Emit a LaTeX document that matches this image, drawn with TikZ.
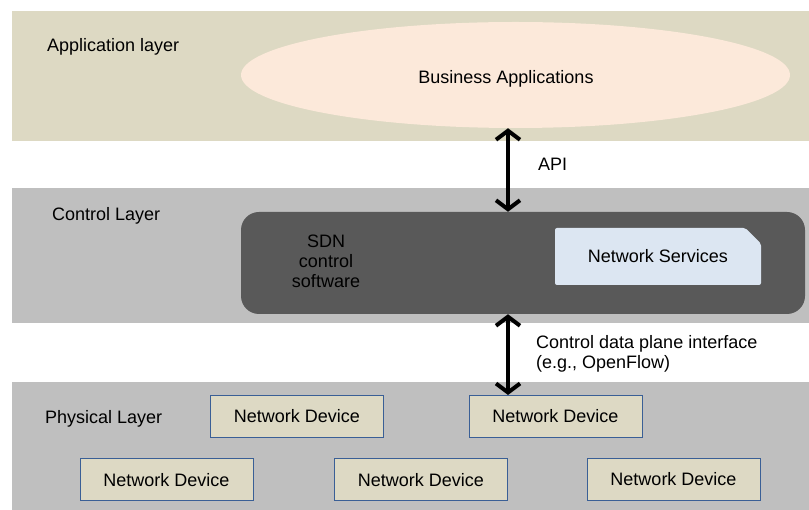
\documentclass[tikz,border=0pt]{standalone}
\usepackage{fontspec}
\setmainfont{Liberation Sans}
\usetikzlibrary{arrows.meta,shapes.geometric,shapes.misc}
\definecolor{appband}{HTML}{DDD9C3}
\definecolor{appfill}{HTML}{FCE9DA}
\definecolor{layergray}{HTML}{BFBFBF}
\definecolor{sdngray}{HTML}{595959}
\definecolor{svcblue}{HTML}{DCE6F2}
\definecolor{devfill}{HTML}{DDD9C4}
\definecolor{devline}{HTML}{3A5F96}
\tikzset{
  txt/.style={font=\fontsize{18}{20}\selectfont, inner sep=0pt},
  lbl/.style={txt, anchor=west, align=left},
  device/.style={txt, draw=devline, line width=1pt, fill=devfill,
    minimum width=173pt, minimum height=42pt},
  bigarrow/.style={line width=4pt,
    {Straight Barb[length=9pt,width=24pt]}-{Straight Barb[length=9pt,width=24pt]}}
}
\begin{document}
\begin{tikzpicture}[x=1pt,y=-1pt]
                \useasboundingbox (0,0) rectangle (809,510);
                \fill[appband] (11.5,11) rectangle (809,141);
                \fill[layergray] (11.5,188) rectangle (809,323);
                \fill[layergray] (11.5,382) rectangle (809,510);

                \node[ellipse, fill=appfill, minimum width=549pt, minimum height=106pt, inner sep=0pt] (apps) at (515.5,75) {};
                \node[txt] (appstext) at (506,79) {Business Applications};
                \node[rounded corners=18pt, fill=sdngray, minimum width=564pt, minimum height=102pt] (sdn) at (523,263) {};
                \node[txt, align=center] (sdntext) at (326,261) {SDN\\control\\software};
                \node[txt, chamfered rectangle, chamfered rectangle corners=north east,
                      chamfered rectangle xsep=9pt, chamfered rectangle ysep=9pt, rounded corners=2pt,
                      fill=svcblue, minimum width=206pt, minimum height=57pt] (services) at (658,256.5) {Network Services};

                \node[lbl] (applayer) at (47,47) {Application layer};
                \node[lbl] (ctrllayer) at (52,216) {Control Layer};
                \node[lbl] (physlayer) at (45,419) {Physical Layer};

                \node[device] (dev1) at (297,416.5) {Network Device};
                \node[device] (dev2) at (555.5,416.5) {Network Device};
                \node[device] (dev3) at (166.5,480) {Network Device};
                \node[device] (dev4) at (421,480) {Network Device};
                \node[device] (dev5) at (673.5,479.5) {Network Device};

                \coordinate (apix) at (508,0);
                \draw[bigarrow] (apps.south -| apix) -- (sdn.north -| apix);
                \draw[bigarrow] (sdn.south -| apix) -- (dev2.north -| apix);
                \node[lbl] (api) at (538,164) {API};
                \node[lbl] (cdpi) at (536,354) {Control data plane interface\\(e.g., OpenFlow)};
\end{tikzpicture}
\end{document}
